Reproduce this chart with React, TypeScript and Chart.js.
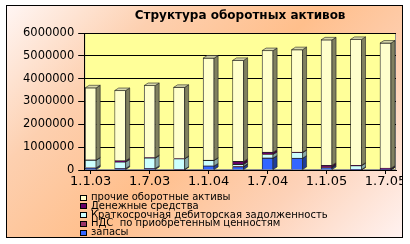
import React, { useEffect, useRef } from 'react';
import { Chart, registerables } from 'chart.js';

Chart.register(...registerables);

const categories = ['1.1.03', '1.4.03', '1.7.03', '1.10.03', '1.1.04', '1.4.04', '1.7.04', '1.10.04', '1.1.05', '1.4.05', '1.7.05'];
const shownLabelIdx = [0, 2, 4, 6, 8, 10];
const yTicks = [0, 1000000, 2000000, 3000000, 4000000, 5000000, 6000000];

const zapasy = [80000, 60000, 60000, 20000, 170000, 140000, 510000, 510000, 100000, 10000, 10000];
const nds = [20000, 10000, 10000, 10000, 10000, 20000, 20000, 10000, 20000, 10000, 20000];
const debitor = [330000, 280000, 450000, 460000, 240000, 85000, 150000, 240000, 10000, 170000, 10000];
const dengi = [10000, 60000, 20000, 10000, 10000, 130000, 100000, 20000, 80000, 20000, 40000];
const prochie = [3160000, 3070000, 3160000, 3120000, 4470000, 4425000, 4450000, 4490000, 5490000, 5510000, 5480000];

const seriesNames = ['запасы', 'НДС  по приобретенным ценностям', 'Краткосрочная дебиторская задолженность', 'Денежные средства', 'прочие оборотные активы'];
const seriesValues = [zapasy, nds, debitor, dengi, prochie];
const seriesColors = ['#3366FF', '#993366', '#CCFFFF', '#660066', '#FFFFCC'];
const sideColors = ['#1f3d99', '#5c1f3d', '#88a8a8', '#3d003d', '#808060'];
const topColor = '#d8d8aa';

const DX = 4;
const DY = 2.5;

const bars3d = {
  id: 'bars3d',
  beforeDraw(chart: any) {
    const { ctx, chartArea: a } = chart;
    ctx.save();
    ctx.fillStyle = '#FFFF99';
    ctx.fillRect(a.left, a.top, a.right - a.left, a.bottom - a.top);
    ctx.strokeStyle = '#909090';
    ctx.lineWidth = 1;
    ctx.strokeRect(a.left + 0.5, a.top + 0.5, a.right - a.left - 1, a.bottom - a.top - 1);
    ctx.restore();
  },
  afterDatasetsDraw(chart: any) {
    const { ctx } = chart;
    const n = chart.data.datasets.length;
    ctx.save();
    ctx.lineWidth = 0.6;
    ctx.strokeStyle = '#222';
    for (let d = 0; d < n; d++) {
      const meta = chart.getDatasetMeta(d);
      meta.data.forEach((el: any) => {
        const p = el.getProps(['x', 'y', 'base', 'width'], true);
        const r = p.x + p.width / 2;
        const top = Math.min(p.y, p.base);
        const bot = Math.max(p.y, p.base);
        if (bot - top <= 0) return;
        ctx.beginPath();
        ctx.moveTo(r, top);
        ctx.lineTo(r + DX, top - DY);
        ctx.lineTo(r + DX, bot - DY);
        ctx.lineTo(r, bot);
        ctx.closePath();
        ctx.fillStyle = sideColors[d];
        ctx.fill();
        ctx.stroke();
        if (d === n - 1) {
          const l = p.x - p.width / 2;
          ctx.beginPath();
          ctx.moveTo(l, top);
          ctx.lineTo(l + DX, top - DY);
          ctx.lineTo(r + DX, top - DY);
          ctx.lineTo(r, top);
          ctx.closePath();
          ctx.fillStyle = topColor;
          ctx.fill();
          ctx.stroke();
        }
      });
    }
    ctx.restore();
  },
};

export default function App() {
  const ref = useRef<HTMLCanvasElement>(null);

  useEffect(() => {
    if (!ref.current) return;
    const chart = new Chart(ref.current, {
      type: 'bar',
      data: {
        datasets: seriesNames.map((name, i) => ({
          label: name,
          data: seriesValues[i].map((v, j) => ({ x: j, y: v })),
          backgroundColor: seriesColors[i],
          borderColor: '#222',
          borderWidth: 0.8,
          barThickness: 11,
        })),
      },
      options: {
        animation: false,
        responsive: false,
        maintainAspectRatio: false,
        layout: { padding: { left: 12, right: 6, top: 0, bottom: 47.4 } },
        plugins: {
          legend: { display: false },
          tooltip: { enabled: false },
          title: {
            display: true,
            text: 'Структура оборотных активов',
            fullSize: false,
            color: '#000',
            font: { family: 'DejaVu Sans', size: 12, weight: 'bold' },
            padding: { top: 3, bottom: 9.6 },
          },
        },
        scales: {
          x: {
            type: 'linear',
            stacked: true,
            offset: false,
            min: -0.22,
            max: 10.356,
            afterBuildTicks: (scale: any) => {
              scale.ticks = shownLabelIdx.map((v) => ({ value: v }));
            },
            afterFit: (scale: any) => {
              scale.paddingLeft = 0;
              scale.paddingRight = 0;
            },
            grid: { drawOnChartArea: false, color: '#000', tickLength: 4, offset: false },
            border: { display: true, color: '#000' },
            ticks: {
              autoSkip: false,
              maxRotation: 0,
              padding: 0,
              color: '#000',
              font: { family: 'DejaVu Sans', size: 13 },
              callback: (v: any) => categories[v as number] ?? '',
            },
          },
          y: {
            stacked: true,
            min: 0,
            max: 6000000,
            afterBuildTicks: (scale: any) => {
              scale.ticks = yTicks.map((v) => ({ value: v }));
            },
            grid: { color: '#000', tickLength: 6 },
            border: { display: true, color: '#000' },
            ticks: {
              padding: 4,
              color: '#000',
              font: { family: 'DejaVu Sans', size: 11.5 },
              callback: (v: any) => String(v),
            },
          },
        },
      },
      plugins: [bars3d],
    });
    return () => chart.destroy();
  }, []);

  const legendOrder = [4, 3, 2, 1, 0];

  return (
    <div
      style={{
        position: 'absolute',
        left: 6,
        top: 5,
        width: 397,
        height: 233,
        boxSizing: 'border-box',
        border: '1px solid #000',
        background: 'linear-gradient(135deg, #fff6f4 0%, #fdd0b0 25%, #ffbf8c 50%, #fdd2b8 75%, #fff2f0 100%)',
        overflow: 'hidden',
      }}
    >
      <canvas ref={ref} width={395} height={231} style={{ position: 'absolute', left: 0, top: 0, width: 395, height: 231 }} />
      {legendOrder.map((s, row) => (
        <div
          key={s}
          style={{
            position: 'absolute',
            left: 73,
            top: 191.5 + 8.75 * row - 4.375,
            height: 8.75,
            lineHeight: '8.75px',
            fontFamily: 'DejaVu Sans',
            fontSize: 10,
            color: '#000',
            whiteSpace: 'pre',
            display: 'flex',
            alignItems: 'center',
          }}
        >
          <span
            style={{
              display: 'inline-block',
              width: 7,
              height: 6,
              boxSizing: 'border-box',
              border: '1px solid #000',
              background: seriesColors[s],
              marginRight: 4,
            }}
          />
          <span>{seriesNames[s]}</span>
        </div>
      ))}
    </div>
  );
}
